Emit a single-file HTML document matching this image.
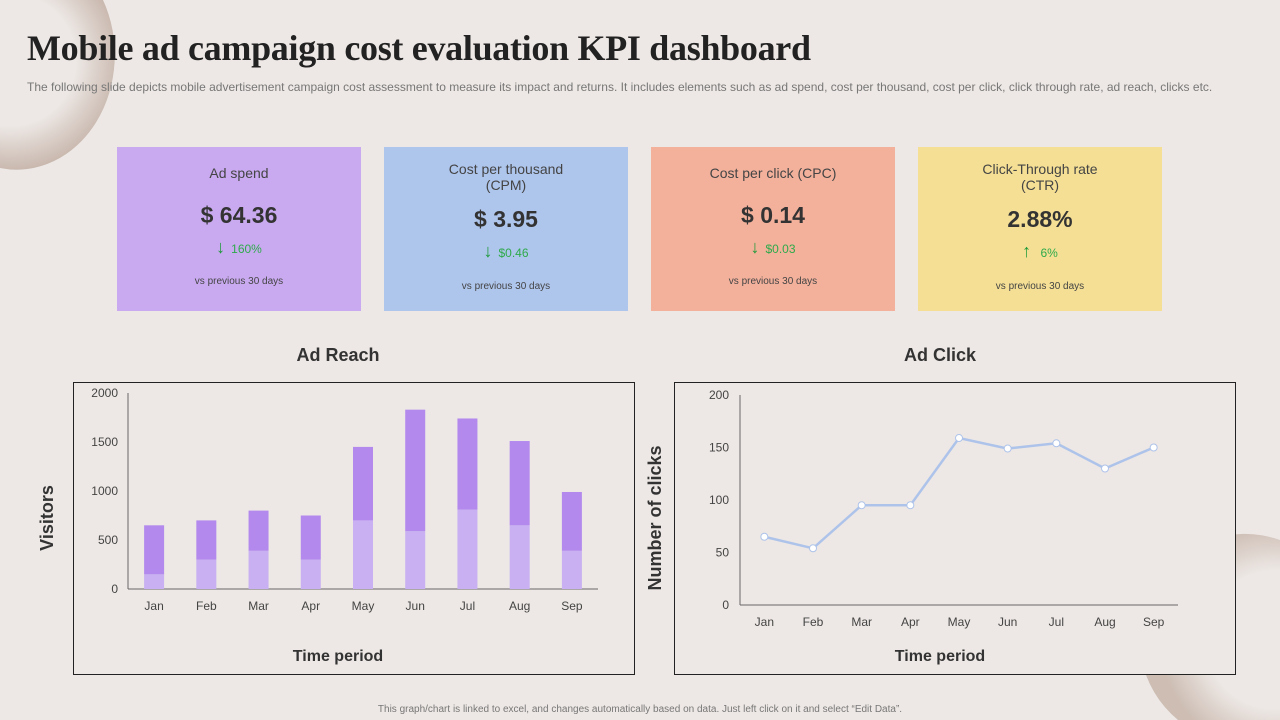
<!DOCTYPE html>
<html><head><meta charset="utf-8">
<style>
html,body{margin:0;padding:0;width:1280px;height:720px;overflow:hidden}
#wrap{width:1280px;height:720px;background:#ede8e5;font-family:"Liberation Sans",sans-serif;position:relative;overflow:hidden}
.abs{position:absolute}
.card{position:absolute;top:147px;width:244px;height:164px;text-align:center;color:#444}
.card .t{position:absolute;left:0;right:0;font-size:14px;line-height:16px}
.card .v{position:absolute;left:0;right:0;font-size:23px;font-weight:bold;color:#333}
.card .d{position:absolute;left:0;right:0;font-size:12px;color:#2eaa4a}
.card .d b{font-size:18px;margin-right:6px;color:#1e9a3a}
.card .p{position:absolute;left:0;right:0;font-size:10px;color:#444}
</style></head><body><div id="wrap">
<svg class="abs" style="left:0;top:0" width="1280" height="720">
<defs>
<radialGradient id="g1" gradientUnits="userSpaceOnUse" cx="10" cy="60" r="110"><stop offset="0.6" stop-color="#ede8e5"/><stop offset="1" stop-color="#c9b8ae"/></radialGradient>
<radialGradient id="g2" gradientUnits="userSpaceOnUse" cx="1275" cy="640" r="115"><stop offset="0.6" stop-color="#ede8e5"/><stop offset="1" stop-color="#cdbdb3"/></radialGradient>
</defs>
<path d="M0,0 L103,0 A98,115 0 0 1 0,168 Z" fill="url(#g1)"/>
<path d="M1178,720 A105,105 0 0 1 1280,540 L1280,720 Z" fill="url(#g2)"/>
</svg>
<div class="abs" style="left:27px;top:27px;font-family:'Liberation Serif',serif;font-weight:bold;font-size:36px;color:#222;letter-spacing:-0.3px;white-space:nowrap">Mobile ad campaign cost evaluation KPI dashboard</div>
<div class="abs" style="left:27px;top:80px;font-size:12px;color:#777;white-space:nowrap">The following slide depicts mobile advertisement campaign cost assessment to measure its impact and returns. It includes elements such as ad spend, cost per thousand, cost per click, click through rate, ad reach, clicks etc.</div>

<div class="card" style="left:117px;background:#c9aaf0">
<div class="t" style="top:18px">Ad spend</div><div class="v" style="top:55px">$ 64.36</div>
<div class="d" style="top:90px"><b>↓</b>160%</div><div class="p" style="top:129px">vs previous 30 days</div></div>
<div class="card" style="left:384px;background:#aec5ec">
<div class="t" style="top:14px">Cost per thousand<br>(CPM)</div><div class="v" style="top:59px">$ 3.95</div>
<div class="d" style="top:94px"><b>↓</b>$0.46</div><div class="p" style="top:134px">vs previous 30 days</div></div>
<div class="card" style="left:651px;background:#f3b19c">
<div class="t" style="top:18px">Cost per click (CPC)</div><div class="v" style="top:55px">$ 0.14</div>
<div class="d" style="top:90px"><b>↓</b>$0.03</div><div class="p" style="top:129px">vs previous 30 days</div></div>
<div class="card" style="left:918px;background:#f4df95">
<div class="t" style="top:14px">Click-Through rate<br>(CTR)</div><div class="v" style="top:59px">2.88%</div>
<div class="d" style="top:94px"><b>↑</b> 6%</div><div class="p" style="top:134px">vs previous 30 days</div></div>

<div class="abs" style="left:73px;width:530px;top:345px;text-align:center;font-size:18px;font-weight:bold;color:#333">Ad Reach</div>
<div class="abs" style="left:675px;width:530px;top:345px;text-align:center;font-size:18px;font-weight:bold;color:#333">Ad Click</div>

<svg class="abs" style="left:0;top:0" width="1280" height="720" id="svg">
<rect x="73.5" y="382.5" width="561" height="292" fill="#ede8e5" stroke="#222" stroke-width="1"/>
<rect x="674.5" y="382.5" width="561" height="292" fill="#ede8e5" stroke="#222" stroke-width="1"/>
<g id="bar"></g><g id="line"></g>
<text x="48" y="518" transform="rotate(-90 48 518)" text-anchor="middle" dominant-baseline="middle" font-size="18" font-weight="bold" fill="#333">Visitors</text>
<text x="338" y="661" text-anchor="middle" font-size="16" font-weight="bold" fill="#333">Time period</text>
<text x="656" y="518" transform="rotate(-90 656 518)" text-anchor="middle" dominant-baseline="middle" font-size="18" font-weight="bold" fill="#333">Number of clicks</text>
<text x="940" y="661" text-anchor="middle" font-size="16" font-weight="bold" fill="#333">Time period</text>
</svg>
<div class="abs" style="left:0;width:1280px;top:704px;text-align:center;font-size:10px;line-height:12px;color:#777">This graph/chart is linked to excel, and changes automatically based on data. Just left click on it and select “Edit Data”.</div>
</div>
<script>
const months=["Jan","Feb","Mar","Apr","May","Jun","Jul","Aug","Sep"];
const reachBase=[150,300,390,300,700,590,810,650,390];
const reachTop=[500,400,410,450,750,1240,930,860,600];
const reachTicks=[0,500,1000,1500,2000];
const clicks=[65,54,95,95,159,149,154,130,150];
const clickTicks=[0,50,100,150,200];
const NS="http://www.w3.org/2000/svg";
function mk(t,a,p,txt){const e=document.createElementNS(NS,t);for(const k in a)e.setAttribute(k,a[k]);if(txt!==undefined)e.textContent=txt;p.appendChild(e);return e;}
const bg=document.getElementById('bar');
const bx0=128,bx1=598,by0=589,by1=393;
const byS=v=>by0-(v/2000)*(by0-by1);
const bxS=i=>bx0+(i+0.5)*(bx1-bx0)/months.length;
let ax=mk('line',{x1:bx0,y1:by1,x2:bx0,y2:by0,stroke:'#666'},bg);

ax=mk('line',{x1:bx0,y1:by0,x2:bx1,y2:by0,stroke:'#666'},bg);

reachTicks.forEach(t=>{const e=mk('text',{x:118,y:byS(t)+4,'text-anchor':'end','font-size':12,fill:'#444'},bg,t);
});
months.forEach((m,i)=>{const x=bxS(i);
let r=mk('rect',{x:x-10,y:byS(reachBase[i]),width:20,height:by0-byS(reachBase[i]),fill:'#c8b0f2'},bg);

const tot=reachBase[i]+reachTop[i];
r=mk('rect',{x:x-10,y:byS(tot),width:20,height:byS(reachBase[i])-byS(tot),fill:'#b389ee'},bg);

const t=mk('text',{x:x,y:610,'text-anchor':'middle','font-size':12,fill:'#444'},bg,m);
});
const lg=document.getElementById('line');
const lx0=740,lx1=1178,ly0=605,ly1=395;
const lyS=v=>ly0-(v/200)*(ly0-ly1);
const lxS=i=>lx0+(i+0.5)*(lx1-lx0)/months.length;
ax=mk('line',{x1:lx0,y1:ly1,x2:lx0,y2:ly0,stroke:'#666'},lg);

ax=mk('line',{x1:lx0,y1:ly0,x2:lx1,y2:ly0,stroke:'#666'},lg);

clickTicks.forEach(t=>{const e=mk('text',{x:729,y:lyS(t)+4,'text-anchor':'end','font-size':12,fill:'#444'},lg,t);
});
const pts=clicks.map((v,i)=>lxS(i)+','+lyS(v)).join(' ');
const pl=mk('polyline',{points:pts,fill:'none',stroke:'#aec3ea','stroke-width':2.5},lg);

clicks.forEach((v,i)=>{const c=mk('circle',{cx:lxS(i),cy:lyS(v),r:3.5,fill:'#fff',stroke:'#aec3ea','stroke-width':1},lg);

const t=mk('text',{x:lxS(i),y:626,'text-anchor':'middle','font-size':12,fill:'#444'},lg,months[i]);
});
</script>
</body></html>
